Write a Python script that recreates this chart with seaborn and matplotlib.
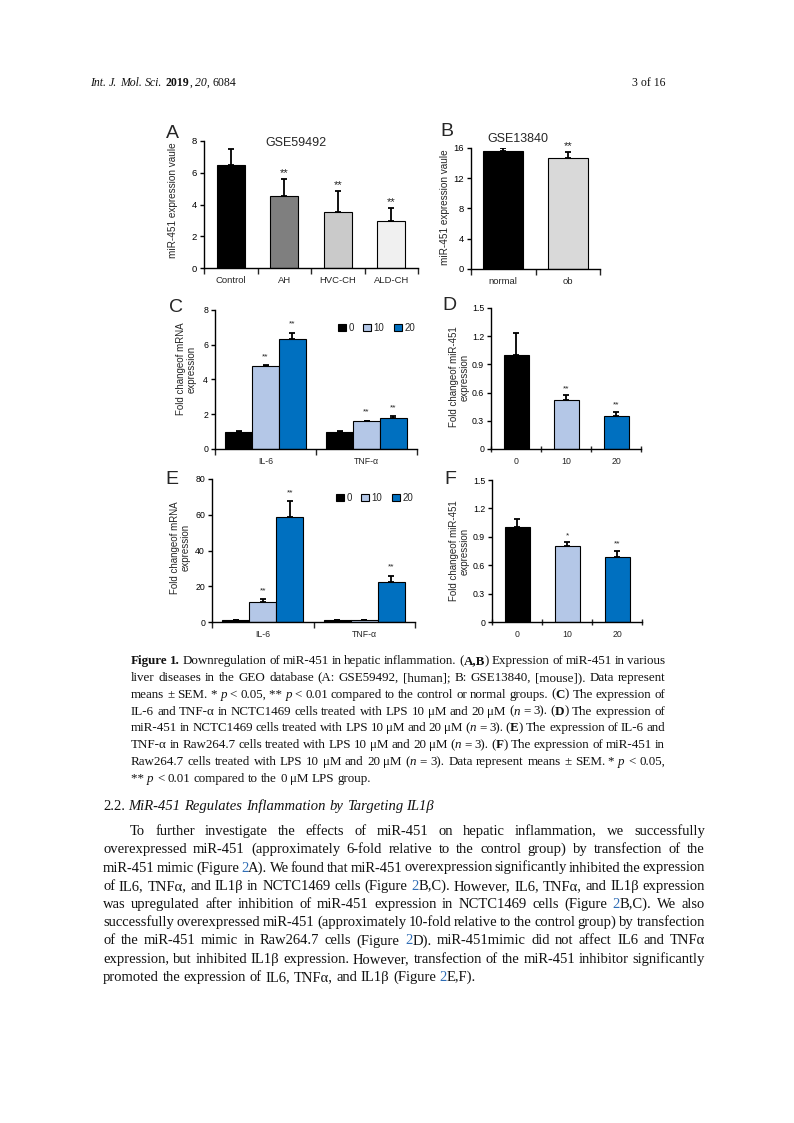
import re
import matplotlib
matplotlib.use('Agg')
import matplotlib.pyplot as plt
from matplotlib.patches import Patch
from matplotlib.container import BarContainer
from matplotlib.ticker import FuncFormatter
import numpy as np
import pandas as pd
import seaborn as sns

W, H = 794, 1123

# ---- data ----
a_groups = ['Control', 'AH', 'HVC-CH', 'ALD-CH']
a_vals = [6.5, 4.55, 3.55, 2.95]
a_errs = [1.0, 1.05, 1.3, 0.85]
a_stars = ['', '**', '**', '**']
a_colors = ['#000000', '#7f7f7f', '#cacaca', '#f0f0f0']

b_groups = ['normal', 'ob']
b_vals = [15.6, 14.7]
b_errs = [0.4, 0.8]
b_stars = ['', '**']
b_colors = ['#000000', '#d9d9d9']

doses = ['0', '10', '20']
dose_colors = ['#000000', '#b4c7e7', '#0070c0']
genes = ['IL-6', 'TNF-α']

c_il6 = [1.0, 4.75, 6.35]
c_il6_err = [0.05, 0.07, 0.35]
c_tnf = [1.0, 1.6, 1.8]
c_tnf_err = [0.05, 0.03, 0.1]
c_stars = [['', '**', '**'], ['', '**', '**']]

d_vals = [1.0, 0.52, 0.35]
d_errs = [0.23, 0.05, 0.04]
d_stars = ['', '**', '**']

e_il6 = [1.0, 11.0, 59.0]
e_il6_err = [0.3, 2.0, 8.5]
e_tnf = [1.0, 1.0, 22.5]
e_tnf_err = [0.2, 0.2, 3.5]
e_stars = [['', '**', '**'], ['', '', '**']]

f_vals = [1.0, 0.80, 0.69]
f_errs = [0.09, 0.04, 0.06]
f_stars = ['', '*', '**']

header_left = '<i>Int. J. Mol. Sci.</i> <b>2019</b>, <i>20</i>, 6084'
header_right = '3~of~16'

caption = [
    '<b>Figure 1.</b> Downregulation of miR-451 in hepatic inflammation. (<b>A,B</b>) Expression of miR-451 in various',
    'liver diseases in the GEO database (A: GSE59492, [human]; B: GSE13840, [mouse]). Data represent',
    'means ± SEM. *~<i>p</i> < 0.05, **~<i>p</i> < 0.01 compared to the control or normal groups. (<b>C</b>) The expression of',
    'IL-6 and TNF-α in NCTC1469 cells treated with LPS 10 μM and 20 μM (<i>n</i> = 3). (<b>D</b>) The expression of',
    'miR-451 in NCTC1469 cells treated with LPS 10 μM and 20 μM (<i>n</i> = 3). (<b>E</b>) The expression of IL-6 and',
    'TNF-α in Raw264.7 cells treated with LPS 10 μM and 20 μM (<i>n</i> = 3). (<b>F</b>) The expression of miR-451 in',
    'Raw264.7 cells treated with LPS 10 μM and 20 μM (<i>n</i> = 3). Data represent means ± SEM. *~<i>p</i> < 0.05,',
    '**~<i>p</i> < 0.01 compared to the 0 μM LPS group.',
]

heading = '2.2. <i>MiR-451 Regulates Inflammation by Targeting IL1β</i>'

body = [
    'To further investigate the effects of miR-451 on hepatic inflammation, we successfully',
    'overexpressed miR-451 (approximately 6-fold relative to the control group) by transfection of the',
    'miR-451 mimic (Figure <l>2</l>A). We found that miR-451 overexpression significantly inhibited the expression',
    'of IL6, TNFα, and IL1β in NCTC1469 cells (Figure <l>2</l>B,C). However, IL6, TNFα, and IL1β expression',
    'was upregulated after inhibition of miR-451 expression in NCTC1469 cells (Figure <l>2</l>B,C). We also',
    'successfully overexpressed miR-451 (approximately 10-fold relative to the control group) by transfection',
    'of the miR-451 mimic in Raw264.7 cells (Figure <l>2</l>D). miR-451mimic did not affect IL6 and TNFα',
    'expression, but inhibited IL1β expression. However, transfection of the miR-451 inhibitor significantly',
    'promoted the expression of IL6, TNFα, and IL1β (Figure <l>2</l>E,F).',
]

sns.set_style('ticks')
plt.rcParams['font.family'] = ['Liberation Sans', 'DejaVu Sans']
plt.rcParams['axes.linewidth'] = 1.0

fig = plt.figure(figsize=(W / 100, H / 100), dpi=100)


def add_ax(l, t, r, b):
    return fig.add_axes([l / W, 1 - b / H, (r - l) / W, (b - t) / H])


def style_axis(ax, n, ymax, step, tick_fs, fmt, tdir='out'):
    ax.set_xlim(-0.5, n - 0.5)
    ax.set_ylim(0, ymax)
    ax.set_yticks(np.arange(0, ymax + step / 2, step))
    ax.yaxis.set_major_formatter(FuncFormatter(fmt))
    ax.set_xticks(np.arange(-0.5, n, 1.0))
    ax.set_xticklabels([])
    ax.set_xlabel('')
    for sp in ['top', 'right']:
        ax.spines[sp].set_visible(False)
    for sp in ['left', 'bottom']:
        ax.spines[sp].set_color('black')
    ax.tick_params(axis='y', length=3, width=1, pad=2, labelsize=tick_fs, colors='black')
    ax.tick_params(axis='x', which='major', length=4, width=1, direction=tdir)
    ax.tick_params(axis='x', which='minor', length=0, pad=6, labelsize=tick_fs)


def add_err(ax, x, top, err, star, star_fs, star_off):
    ax.errorbar(x, top, yerr=[[0], [err]], fmt='none', ecolor='black',
                elinewidth=1.3, capsize=2.0, capthick=1.3, zorder=3)
    if star:
        ax.annotate(star, xy=(x, top + err), xytext=(0, star_off), textcoords='offset points',
                    ha='center', va='bottom', fontsize=star_fs, color='#222222')


def simple_panel(ax, cats, vals, errs, stars, colors, width, ymax, step, tick_fs, star_fs, star_off,
                 fmt, tdir='out'):
    df = pd.DataFrame({'cat': cats, 'val': vals})
    sns.barplot(data=df, x='cat', y='val', hue='cat', palette=colors, width=width, saturation=1,
                edgecolor='black', linewidth=0.8, legend=False, errorbar=None, ax=ax)
    bars = list(ax.patches)
    for bar, e, s in zip(bars, errs, stars):
        add_err(ax, bar.get_x() + bar.get_width() / 2, bar.get_height(), e, s, star_fs, star_off)
    style_axis(ax, len(cats), ymax, step, tick_fs, fmt, tdir)
    ax.set_xticks(np.arange(len(cats)), minor=True)
    ax.set_xticklabels(cats, minor=True)
    ax.set_ylabel('')


def grouped_panel(ax, il6, il6_err, tnf, tnf_err, stars, ymax, step, leg_y):
    df = pd.DataFrame({
        'gene': [genes[0]] * 3 + [genes[1]] * 3,
        'dose': doses + doses,
        'val': il6 + tnf,
    })
    sns.barplot(data=df, x='gene', y='val', hue='dose', hue_order=doses, palette=dose_colors,
                width=0.8, saturation=1, edgecolor='black', linewidth=0.8, legend=False,
                errorbar=None, ax=ax)
    errs = [il6_err, tnf_err]
    bar_conts = [c for c in ax.containers if isinstance(c, BarContainer)]
    for i, cont in enumerate(bar_conts):
        for bar in cont:
            x = bar.get_x() + bar.get_width() / 2
            j = int(round(x))
            add_err(ax, x, bar.get_height(), errs[j][i], stars[j][i], 6, 3.5)
    style_axis(ax, 2, ymax, step, 6.3, lambda v, p: f'{v:g}')
    ax.set_xticks([0, 1], minor=True)
    ax.set_xticklabels(genes, minor=True)
    ax.set_ylabel('')
    handles = [Patch(facecolor=c, edgecolor='black', linewidth=0.8, label=d)
               for c, d in zip(dose_colors, doses)]
    ax.legend(handles=handles, ncol=3, loc='center right', bbox_to_anchor=(0.99, leg_y),
              frameon=False, fontsize=7, handlelength=0.8, handleheight=0.8,
              handletextpad=0.25, columnspacing=1.0, borderaxespad=0, borderpad=0)


int_fmt = lambda v, p: f'{v:g}'
dec_fmt = lambda v, p: '0' if v == 0 else f'{v:.1f}'

# A
ax = add_ax(204, 141, 418, 268)
simple_panel(ax, a_groups, a_vals, a_errs, a_stars, a_colors, 0.52, 8, 2, 6.8, 8, 0.5, int_fmt)
ax.text(0.43, 0.985, 'GSE59492', transform=ax.transAxes, ha='center', va='center', fontsize=9)
ax.set_ylabel('miR-451 expression vaule', fontsize=7.2)
ax.yaxis.set_label_coords(-0.122, 0.535)

# B
ax = add_ax(471, 148, 600, 269)
simple_panel(ax, b_groups, b_vals, b_errs, b_stars, b_colors, 0.62, 16, 4, 6.8, 8, 0.5, int_fmt)
ax.text(0.36, 1.075, 'GSE13840', transform=ax.transAxes, ha='center', va='center', fontsize=9)
ax.set_ylabel('miR-451 expression vaule', fontsize=7.2)
ax.yaxis.set_label_coords(-0.166, 0.51)

# C
ax = add_ax(215, 310, 417, 449)
grouped_panel(ax, c_il6, c_il6_err, c_tnf, c_tnf_err, c_stars, 8, 2, 0.87)
ax.set_ylabel('Fold changeof mRNA\nexpression', fontsize=7, linespacing=1.15)
ax.yaxis.set_label_coords(-0.09, 0.575)

# D
ax = add_ax(491, 308, 641, 449)
simple_panel(ax, doses, d_vals, d_errs, d_stars, dose_colors, 0.5, 1.5, 0.3, 6.3, 6, 2.5, dec_fmt, 'inout')
ax.set_ylabel('Fold changeof miR-451\nexpression', fontsize=7, linespacing=1.15)
ax.yaxis.set_label_coords(-0.14, 0.51)

# E
ax = add_ax(212, 479, 415, 622)
grouped_panel(ax, e_il6, e_il6_err, e_tnf, e_tnf_err, e_stars, 80, 20, 0.867)
ax.set_ylabel('Fold changeof mRNA\nexpression', fontsize=7, linespacing=1.15)
ax.yaxis.set_label_coords(-0.104, 0.52)

# F
ax = add_ax(492, 480, 642, 622)
simple_panel(ax, doses, f_vals, f_errs, f_stars, dose_colors, 0.5, 1.5, 0.3, 6.3, 6, 2.5, dec_fmt, 'inout')
ax.set_ylabel('Fold changeof miR-451\nexpression', fontsize=7, linespacing=1.15)
ax.yaxis.set_label_coords(-0.147, 0.5)

# panel letters
for letter, (x, y) in zip('ABCDEF', [(172, 133), (447, 131), (176, 307), (449, 305), (172, 480), (450, 480)]):
    fig.text(x / W, 1 - y / H, letter, ha='center', va='center', fontsize=14)

# ---- page text ----
serif = ['Liberation Serif', 'DejaVu Serif']
renderer = fig.canvas.get_renderer()


def props(style, size):
    return dict(family=serif, size=size,
                weight='bold' if 'b' in style else 'normal',
                style='italic' if 'i' in style else 'normal',
                color='#2f6db5' if 'l' in style else '#111111')


def parse(line):
    words, cur = [], []
    for part in re.split(r'(<[bil]>.*?</[bil]>)', line):
        if not part:
            continue
        m = re.fullmatch(r'<([bil])>(.*?)</[bil]>', part)
        style, txt = (m.group(1), m.group(2)) if m else ('n', part)
        chunks = txt.split(' ')
        for k, ch in enumerate(chunks):
            if k > 0:
                if cur:
                    words.append(cur)
                cur = []
            if ch:
                cur.append((ch.replace('~', ' '), style))
    if cur:
        words.append(cur)
    return words


def piece_w(txt, style, size):
    t = fig.text(0, 0, txt, **props(style, size))
    w = t.get_window_extent(renderer).width
    t.remove()
    return w


def draw_line(line, x0, x1, y, size, justify=True, align='left'):
    words = parse(line)
    space = piece_w('a a', 'n', size) - piece_w('aa', 'n', size)
    widths = [[piece_w(t, s, size) for t, s in w] for w in words]
    total = sum(sum(ws) for ws in widths)
    n = len(words)
    if justify and n > 1:
        gap = (x1 - x0 - total) / (n - 1)
        if gap < 0.4 * space:
            size = size * (x1 - x0 - (n - 1) * 0.4 * space) / total
            space = piece_w('a a', 'n', size) - piece_w('aa', 'n', size)
            widths = [[piece_w(t, s, size) for t, s in w] for w in words]
            total = sum(sum(ws) for ws in widths)
            gap = (x1 - x0 - total) / (n - 1)
    else:
        gap = space
    x = x0
    if align == 'right':
        x = x1 - total - gap * (n - 1)
    for w, ws in zip(words, widths):
        for (t, s), pw in zip(w, ws):
            fig.text(x / W, 1 - y / H, t, ha='left', va='baseline', **props(s, size))
            x += pw
        x += gap


draw_line(header_left, 90, 400, 86, 8.5, justify=False)
draw_line(header_right, 400, 665, 86, 8.5, justify=False, align='right')

for i, line in enumerate(caption):
    draw_line(line, 131, 665, 664 + i * 16.85, 9.4, justify=(i < len(caption) - 1))

draw_line(heading, 103, 705, 810, 10.5, justify=False)

for i, line in enumerate(body):
    x0 = 130 if i == 0 else 103
    draw_line(line, x0, 705, 835 + i * 18.25, 10.5, justify=(i < len(body) - 1))

fig.savefig('out.png', dpi=100)
